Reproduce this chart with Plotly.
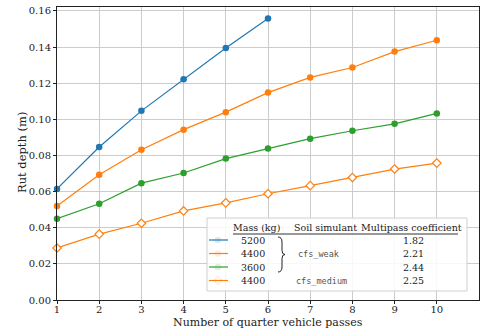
import plotly.graph_objects as go

passes = list(range(1, 11))
m5200_weak = [0.0615, 0.0847, 0.1047, 0.1222, 0.1395, 0.1558]
m4400_weak = [0.0520, 0.0693, 0.0832, 0.0943, 0.1040, 0.1148, 0.1232, 0.1287, 0.1375, 0.1438]
m3600_weak = [0.0450, 0.0533, 0.0647, 0.0703, 0.0783, 0.0838, 0.0893, 0.0937, 0.0975, 0.1033]
m4400_medium = [0.0288, 0.0365, 0.0425, 0.0493, 0.0538, 0.0588, 0.0633, 0.0678, 0.0725, 0.0758]

masses = ["5200", "4400", "3600", "4400"]
coeffs = ["1.82", "2.21", "2.44", "2.25"]
soils = ["cfs_weak", "cfs_medium"]

BLUE = "#1f77b4"
ORANGE = "#ff7f0e"
GREEN = "#2ca02c"
colors = [BLUE, ORANGE, GREEN, ORANGE]
open_marker = [False, False, False, True]

W, H = 481, 331
L, R, T, B = 57, 2, 7, 31
PW, PH = W - L - R, H - T - B

def px(x):
    return (x - L) / PW

def py(y):
    return (H - B - y) / PH

SERIF = "DejaVu Serif"
MONO = "DejaVu Sans Mono"
MS = 6.5

fig = go.Figure()
series = [m5200_weak, m4400_weak, m3600_weak, m4400_medium]
for vals, c, op in zip(series, colors, open_marker):
    fig.add_trace(go.Scatter(
        x=passes[:len(vals)], y=vals, mode="lines+markers",
        line=dict(color=c, width=1.2),
        marker=dict(symbol="diamond" if op else "circle", size=MS,
                    color="white" if op else c,
                    line=dict(color=c, width=1.2) if op else dict(width=0)),
        showlegend=False, cliponaxis=False))

fig.update_layout(
    width=W, height=H, margin=dict(l=L, r=R, t=T, b=B, autoexpand=False),
    paper_bgcolor="white", plot_bgcolor="white",
    font=dict(family=SERIF, size=10, color="#222"),
    xaxis=dict(range=[1, 11], tickvals=passes, showgrid=True, gridcolor="#cccccc", gridwidth=1,
               showline=True, linecolor="#222", linewidth=1, mirror=True, ticks="outside",
               ticklen=3, tickcolor="#222", zeroline=False, automargin=False,
               ticklabelstandoff=-3),
    yaxis=dict(range=[0, 0.1622], tickvals=[0, 0.02, 0.04, 0.06, 0.08, 0.10, 0.12, 0.14, 0.16],
               tickformat=".2f", showgrid=True, gridcolor="#cccccc", gridwidth=1,
               showline=True, linecolor="#222", linewidth=1, mirror=True, ticks="outside",
               ticklen=3, tickcolor="#222", zeroline=False, automargin=False),
)

shapes = []
ann = []
LF = 9.5
# axis titles
ann.append(dict(text="Number of quarter vehicle passes", x=px(268), y=py(331), xref="paper", yref="paper",
                showarrow=False, font=dict(family=SERIF, size=11, color="#222"),
                xanchor="center", yanchor="bottom"))
ann.append(dict(text="Rut depth (m)", x=px(22), y=py(153), xref="paper", yref="paper", textangle=-90,
                showarrow=False, font=dict(family=SERIF, size=11.5, color="#222"),
                xanchor="center", yanchor="middle"))
# legend box
shapes.append(dict(type="rect", xref="paper", yref="paper", x0=px(207), x1=px(467), y0=py(291), y1=py(218),
                   line=dict(color="#d0d0d0", width=1), fillcolor="rgba(255,255,255,0.85)", layer="above"))
# header underline
shapes.append(dict(type="line", xref="paper", yref="paper", x0=px(233), x1=px(458), y0=py(234), y1=py(234),
                   line=dict(color="#333", width=1.2), layer="above"))
headers = [("Mass (kg)", 256), ("Soil simulant", 325), ("Multipass coefficient", 411)]
for txt, x in headers:
    ann.append(dict(text=txt, x=px(x), y=py(227), xref="paper", yref="paper", showarrow=False,
                    font=dict(family=SERIF, size=LF, color="#222"), xanchor="center", yanchor="middle"))
rows_y = [240, 253.5, 267, 280.5]
for i, yy in enumerate(rows_y):
    c = colors[i]
    shapes.append(dict(type="line", xref="paper", yref="paper", x0=px(209), x1=px(228), y0=py(yy), y1=py(yy),
                       line=dict(color=c, width=1.2), layer="above"))
    ann.append(dict(text=masses[i], x=px(253), y=py(yy), xref="paper", yref="paper", showarrow=False,
                    font=dict(family=SERIF, size=LF, color="#222"), xanchor="center", yanchor="middle"))
    ann.append(dict(text=coeffs[i], x=px(413), y=py(yy), xref="paper", yref="paper", showarrow=False,
                    font=dict(family=SERIF, size=LF, color="#222"), xanchor="center", yanchor="middle"))
mx = [218] * 4
fig.add_trace(go.Scatter(
    x=[px(v) for v in mx[:3]], y=[py(v) for v in rows_y[:3]], mode="markers", xaxis="x2", yaxis="y2",
    marker=dict(symbol="circle", size=MS, color=colors[:3]), showlegend=False, hoverinfo="skip"))
fig.add_trace(go.Scatter(
    x=[px(mx[3])], y=[py(rows_y[3])], mode="markers", xaxis="x2", yaxis="y2",
    marker=dict(symbol="diamond", size=MS, color="white", line=dict(color=ORANGE, width=1.2)),
    showlegend=False, hoverinfo="skip"))
fig.update_layout(
    xaxis2=dict(overlaying="x", range=[0, 1], visible=False),
    yaxis2=dict(overlaying="y", range=[0, 1], visible=False),
)
# brace
bx, top, mid, bot = 282, 237, 254.5, 272
path = (f"M {px(bx-4)},{py(top)} Q {px(bx)},{py(top)} {px(bx)},{py(top+5)} "
        f"L {px(bx)},{py(mid-4)} Q {px(bx)},{py(mid)} {px(bx+3)},{py(mid)} "
        f"Q {px(bx)},{py(mid)} {px(bx)},{py(mid+4)} "
        f"L {px(bx)},{py(bot-5)} Q {px(bx)},{py(bot)} {px(bx-4)},{py(bot)}")
shapes.append(dict(type="path", xref="paper", yref="paper", path=path,
                   line=dict(color="#222", width=1), layer="above"))
ann.append(dict(text=soils[0], x=px(318), y=py(254), xref="paper", yref="paper", showarrow=False,
                font=dict(family=MONO, size=8.5, color="#555"), xanchor="center", yanchor="middle"))
ann.append(dict(text=soils[1], x=px(321), y=py(281), xref="paper", yref="paper", showarrow=False,
                font=dict(family=MONO, size=8.5, color="#555"), xanchor="center", yanchor="middle"))

fig.update_layout(shapes=shapes, annotations=ann)
fig.write_html("out.html", config={"displayModeBar": False},
               post_script="document.body.style.margin='0';document.body.style.padding='0';")
